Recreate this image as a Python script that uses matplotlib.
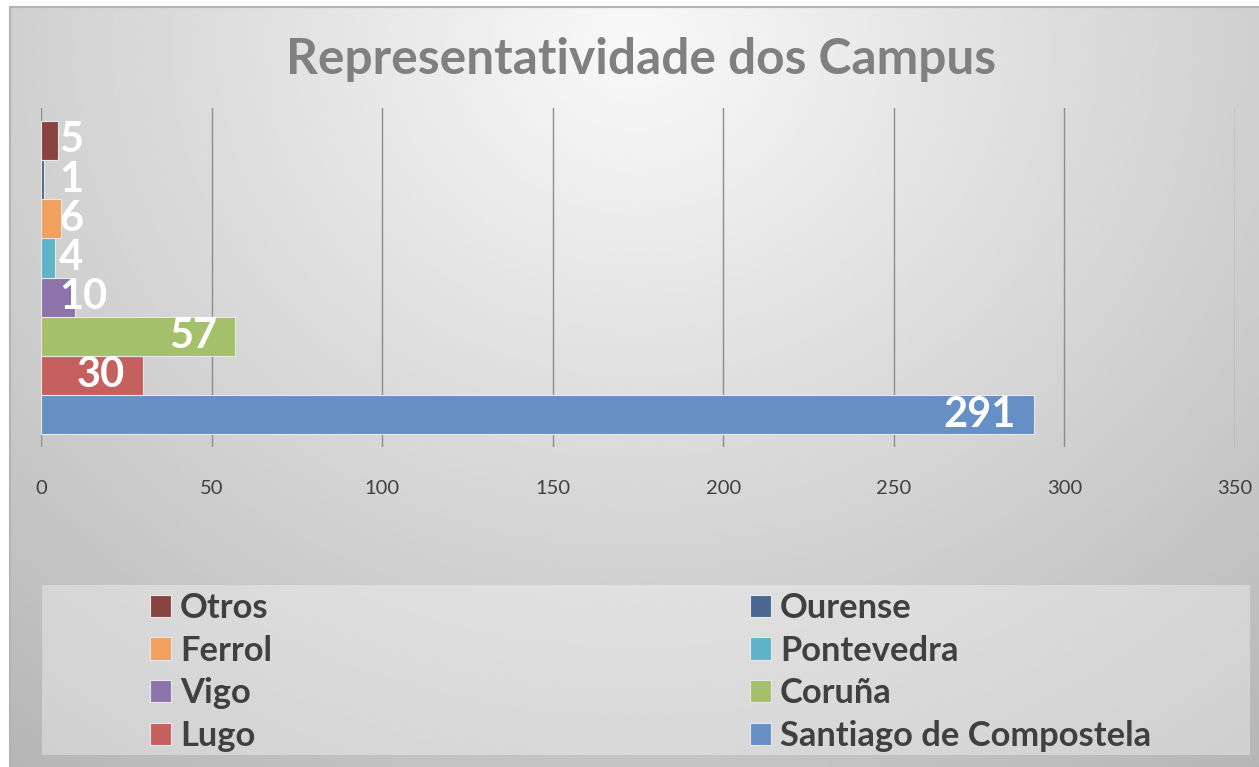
import numpy as np
import matplotlib
matplotlib.use("Agg")
import matplotlib.pyplot as plt
from matplotlib.patches import Rectangle, Patch

# data (bottom to top as drawn)
campus = ["Santiago de Compostela", "Lugo", "Coruña", "Vigo",
          "Pontevedra", "Ferrol", "Ourense", "Otros"]
alumnos = [291, 30, 57, 10, 4, 6, 1, 5]
cores = ["#6690c5", "#c6605e", "#a5c06b", "#8c74ab",
         "#5fb3c9", "#f2a05d", "#4a6791", "#8a4343"]
xticks = [0, 50, 100, 150, 200, 250, 300, 350]

plt.rcParams["font.family"] = ["Lato", "DejaVu Sans"]

W, H = 1259, 767
fig = plt.figure(figsize=(W / 100, H / 100), dpi=100)
fig.patch.set_facecolor("white")

# radial gradient background
bg = fig.add_axes([10 / W, 0, 1 - 10 / W, 1 - 7 / H], zorder=-10)
yy, xx = np.mgrid[0:1:300j, 0:1:500j]
r = np.sqrt(((xx - 0.5) / 0.75) ** 2 + ((yy - 0.05) / 1.1) ** 2)
grad = np.clip(0.975 - 0.24 * r, 0, 1)
bg.imshow(grad, cmap="gray", vmin=0, vmax=1, aspect="auto",
          extent=[0, 1, 1, 0], interpolation="bicubic")
bg.set_xlim(0, 1)
bg.set_ylim(1, 0)
bg.axis("off")
fig.add_artist(plt.Line2D([10 / W, 10 / W], [0, 1 - 7 / H], color="#b4b4b4", lw=1.5))
fig.add_artist(plt.Line2D([10 / W, 1], [1 - 7 / H, 1 - 7 / H], color="#b4b4b4", lw=1.5))

# legend box
fig.add_artist(Rectangle((42 / W, (H - 755) / H), (1250 - 42) / W, 170 / H,
                         transform=fig.transFigure, facecolor="white",
                         alpha=0.35, edgecolor="none"))

ax = fig.add_axes([41 / W, (H - 447) / H, 1194 / W, 339 / H])
ax.patch.set_alpha(0)
y = np.arange(len(campus))
bars = ax.barh(y, alumnos, height=1.0, color=cores, edgecolor="#e8e8e8",
               linewidth=0.8, zorder=3)
ax.set_xlim(0, 350)
ax.set_ylim(-0.5 - 0.33, len(campus) - 0.5 + 0.33)
ax.set_xticks(xticks)
ax.set_xticklabels([str(t) for t in xticks], fontsize=14.5, color="#404040")
ax.set_yticks([])
ax.tick_params(axis="x", length=0, pad=24)
ax.grid(axis="x", color="#8c8c8c", linewidth=1.0, zorder=0)
for sp in ax.spines.values():
    sp.set_visible(False)

pad = 5.3
for yi, v in zip(y, alumnos):
    if v < 20:
        ax.text(pad, yi, str(v), ha="left", va="center", color="white",
                fontsize=30, fontweight="bold", zorder=4)
    else:
        ax.text(v - pad, yi, str(v), ha="right", va="center", color="white",
                fontsize=30, fontweight="bold", zorder=4)

fig.text(641 / W, 1 - 60 / H, "Representatividade dos Campus", ha="center",
         va="center", fontsize=35.7, fontweight="bold", color="#808080")

# legend, two columns in the order shown
col1 = ["Otros", "Ferrol", "Vigo", "Lugo"]
col2 = ["Ourense", "Pontevedra", "Coruña", "Santiago de Compostela"]
for names, x0 in ((col1, 150), (col2, 750)):
    hs = [Patch(facecolor=cores[campus.index(n)], edgecolor="#e8e8e8", linewidth=0.8)
          for n in names]
    leg = fig.legend(hs, names, loc="upper left",
                     bbox_to_anchor=(x0 / W, 1 - 592 / H), frameon=False,
                     borderpad=0, borderaxespad=0, handlelength=0.62,
                     handleheight=0.62, handletextpad=0.25, labelspacing=0.31,
                     prop={"size": 24.8, "weight": "bold"})
    for t in leg.get_texts():
        t.set_color("#404040")

fig.savefig("out.png", dpi=100)
